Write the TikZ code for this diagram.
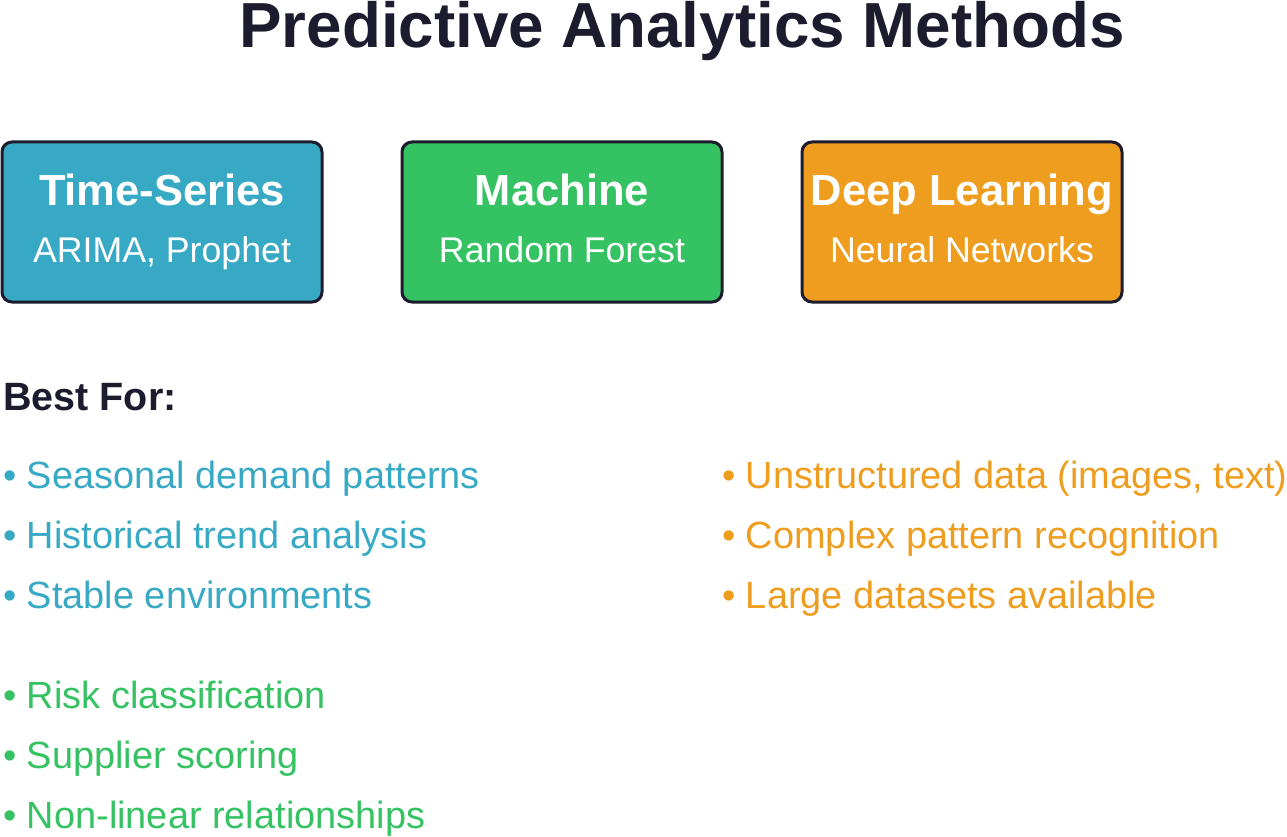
\documentclass[tikz,border=0pt]{standalone}
\usepackage{fontspec}
\setmainfont{Liberation Sans}
\definecolor{ink}{RGB}{28,28,46}
\definecolor{tsblue}{RGB}{56,169,196}
\definecolor{mlgreen}{RGB}{53,194,98}
\definecolor{dlorange}{RGB}{238,157,30}
\tikzset{
  method/.style={draw=ink,line width=3pt,rounded corners=10pt,minimum width=320pt,minimum height=160pt,inner sep=0pt},
  mtitle/.style={anchor=base,inner sep=0pt,text=white,font=\fontsize{43.5}{50}\selectfont\bfseries},
  msub/.style={anchor=base,inner sep=0pt,text=white,font=\fontsize{35.7}{42}\selectfont},
  item/.style={anchor=base west,inner sep=0pt,font=\fontsize{37.9}{44}\selectfont},
}
\begin{document}
\begin{tikzpicture}[x=1pt,y=-1pt]
\useasboundingbox (0,0) rectangle (1287,837);
\node[anchor=base,inner sep=0pt,text=ink,font=\fontsize{63.7}{70}\selectfont\bfseries] (title) at (682,48) {Predictive Analytics Methods};

\node[method,fill=tsblue] (ts) at (162,222) {};
\node[method,fill=mlgreen] (ml) at (562,222) {};
\node[method,fill=dlorange] (dl) at (962,222) {};

\node[mtitle] (tst) at (162,205) {Time-Series};
\node[msub] (tss) at (162,262) {ARIMA, Prophet};
\node[mtitle] (mlt) at (562,205) {Machine};
\node[msub] (mls) at (562,262) {Random Forest};
\node[mtitle] (dlt) at (962,205) {Deep Learning};
\node[msub] (dls) at (962,262) {Neural Networks};

\node[anchor=base west,inner sep=0pt,text=ink,font=\fontsize{39.5}{46}\selectfont\bfseries] (best) at (3,410) {Best For:};

\node[item,text=tsblue] (b1) at (3,488) {• Seasonal demand patterns};
\node[item,text=tsblue] (b2) at (3,548) {• Historical trend analysis};
\node[item,text=tsblue] (b3) at (3,608) {• Stable environments};

\node[item,text=mlgreen] (g1) at (3,708) {• Risk classification};
\node[item,text=mlgreen] (g2) at (3,768) {• Supplier scoring};
\node[item,text=mlgreen] (g3) at (3,828) {• Non-linear relationships};

\node[item,text=dlorange] (o1) at (722,488) {• Unstructured data (images, text)};
\node[item,text=dlorange] (o2) at (722,548) {• Complex pattern recognition};
\node[item,text=dlorange] (o3) at (722,608) {• Large datasets available};
\end{tikzpicture}
\end{document}
